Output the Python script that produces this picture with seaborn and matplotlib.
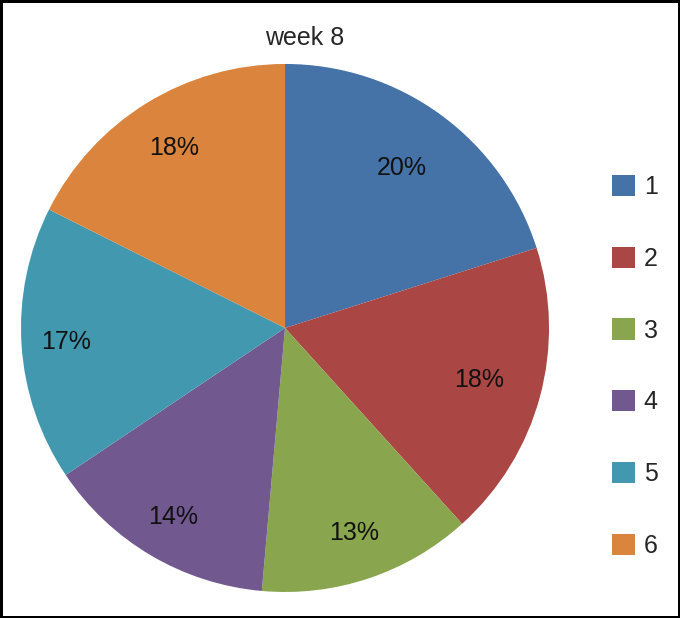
import numpy as np
import matplotlib
matplotlib.use('Agg')
import matplotlib.pyplot as plt
import seaborn as sns
from matplotlib.patches import Patch

# weekly share per category
categories = ['1', '2', '3', '4', '5', '6']
shares = [20.1, 18.2, 13.1, 14.2, 16.8, 17.6]
colors = ['#4572A7', '#AA4643', '#89A54E', '#71588F', '#4198AF', '#DB843D']
title = 'week 8'

sns.set_theme(style='white')
plt.rcParams['font.family'] = ['Liberation Sans', 'DejaVu Sans']

fig = plt.figure(figsize=(6.8, 6.18), dpi=100)
fig.patch.set_facecolor('white')
fig.patch.set_edgecolor('black')
fig.patch.set_linewidth(2.5)

ax = fig.add_axes([0.0309, 0.0421, 0.7765, 0.8544])
wedges, texts, autotexts = ax.pie(
    shares, colors=sns.color_palette(colors), startangle=90, counterclock=False,
    autopct='%1.0f%%', pctdistance=0.79, radius=1.0,
    wedgeprops=dict(linewidth=0), textprops=dict(fontsize=18, color='#111111'))

# percentage labels sit at slightly different radii in the original
label_radius = [0.75, 0.76, 0.82, 0.83, 0.83, 0.80]
for w, t, r in zip(wedges, autotexts, label_radius):
    ang = np.deg2rad((w.theta1 + w.theta2) / 2)
    t.set_position((r * np.cos(ang), r * np.sin(ang)))

ax.set_xlim(-1, 1)
ax.set_ylim(-1, 1)
ax.set_aspect('equal')

fig.text(0.4485, 1 - 45 / 618, title, ha='center', va='baseline', fontsize=18)

handles = [Patch(facecolor=c, edgecolor='none') for c in colors]
fig.legend(handles, categories, loc='center left', bbox_to_anchor=(0.9, 0.407),
           frameon=False, fontsize=18, handlelength=0.92, handleheight=0.92,
           handletextpad=0.35, labelspacing=1.91, borderpad=0, borderaxespad=0)

fig.savefig('out.png', dpi=100, facecolor=fig.get_facecolor(), edgecolor=fig.get_edgecolor())
